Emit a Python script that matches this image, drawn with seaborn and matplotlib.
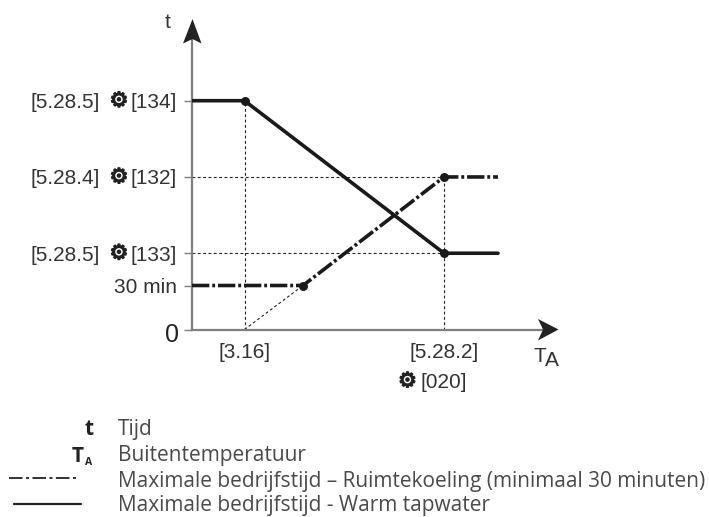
import matplotlib
matplotlib.use("Agg")
import matplotlib.pyplot as plt
from matplotlib.lines import Line2D
from matplotlib.patches import Polygon
from matplotlib.transforms import ScaledTranslation
import matplotlib.patheffects as pe
import seaborn as sns

W, H = 709, 517
GEAR = "\u2699"

# data (arbitrary temperature units along x, minutes along y)
cool_x = [0, 111, 252, 306]
cool_y = [30, 30, 104, 104]
heat_x = [0, 52.5, 252, 306]
heat_y = [156, 156, 52, 52]
knot_x = [52.5, 252, 111, 252]
knot_y = [156, 52, 30, 104]
guide_segments = [
    ([52.5, 52.5], [0, 156]),
    ([0, 252], [104, 104]),
    ([0, 252], [52, 52]),
    ([252, 252], [0, 104]),
    ([52.5, 111], [0, 30]),
]
y_ticks = [0, 30, 52, 104, 156]
y_labels = ["0", "30 min", "[133]", "[132]", "[134]"]
menu_ticks = [52, 104, 156]
menu_labels = ["[5.28.5]", "[5.28.4]", "[5.28.5]"]
x_ticks = [52.5, 252]
x_labels = ["[3.16]", "[5.28.2]"]
legend_keys = ["t", "T", None, None]
legend_texts = ["Tijd", "Buitentemperatuur",
                "Maximale bedrijfstijd \u2013 Ruimtekoeling (minimaal 30 minuten)",
                "Maximale bedrijfstijd - Warm tapwater"]

sns.set_style("white")
plt.rcParams["font.family"] = ["Liberation Sans", "DejaVu Sans"]
INK = "#222222"
AXC = "#7f7f7f"

fig = plt.figure(figsize=(W / 100, H / 100), dpi=100)
ax = fig.add_axes([192 / W, 1 - 329.5 / H, 358 / W, 299.5 / H])
ax.set_xlim(0, 358)
ax.set_ylim(0, 299.5 / (44 / 30))
ax.patch.set_alpha(0)

for gx, gy in guide_segments:
    sns.lineplot(x=gx, y=gy, ax=ax, color="#222222", linewidth=0.8, sort=False,
                 estimator=None, linestyle=(0, (2.6, 2.2)), zorder=1)
sns.lineplot(x=cool_x, y=cool_y, ax=ax, color="#1a1a1a", linewidth=2.6, sort=False,
             estimator=None, linestyle=(0, (4.8, 0.8, 0.8, 0.8)), zorder=3)
sns.lineplot(x=heat_x, y=heat_y, ax=ax, color="#1a1a1a", linewidth=2.6, sort=False,
             estimator=None, zorder=3)
sns.scatterplot(x=knot_x, y=knot_y, ax=ax, color="#1a1a1a", s=42, linewidth=0, zorder=4, clip_on=False)

for s in ("top", "right"):
    ax.spines[s].set_visible(False)
for s in ("left", "bottom"):
    ax.spines[s].set_color(AXC)
    ax.spines[s].set_linewidth(1.6)

ax.set_yticks(y_ticks, y_labels, fontsize=15, color="#333333")
ax.tick_params(axis="y", length=6, width=1.0, color=AXC, pad=5, left=True)
zero = ax.get_yticklabels()[0]
zero.set_fontsize(18)
zero.set_color(INK)
zero.set_transform(zero.get_transform() + ScaledTranslation(2 / 100, -3 / 100, fig.dpi_scale_trans))
ax.set_xticks(x_ticks, x_labels, fontsize=15, color="#333333")
ax.tick_params(axis="x", length=0, pad=10, bottom=True)

gear_fx = [pe.withStroke(linewidth=1.0, foreground="#222222")]
row_trans = ax.get_yaxis_transform()
for mt, ml in zip(menu_ticks, menu_labels):
    ax.text((119 - 192) / 358, mt, GEAR, transform=row_trans, family="DejaVu Sans", fontsize=15,
            color="#222222", ha="center", va="center", path_effects=gear_fx, clip_on=False)
    ax.text((99.5 - 192) / 358, mt, ml, transform=row_trans, fontsize=15,
            color="#333333", ha="right", va="center_baseline", clip_on=False)


def px(x, y):
    return x / W, 1 - y / H


# axis arrows
fig.add_artist(Polygon([px(192.5, 19), px(183, 43.5), px(192.5, 39), px(201.5, 43.5)],
                       closed=True, transform=fig.transFigure, color=INK, lw=0))
fig.add_artist(Polygon([px(558.5, 329.5), px(538, 319), px(543, 329.5), px(538, 340.5)],
                       closed=True, transform=fig.transFigure, color=INK, lw=0))

# axis names and the second label line
fig.text(*px(168, 23), "t", fontsize=15, color="#333333", ha="center", va="center")
fig.text(*px(539.5, 356), "T", fontsize=15, color="#333333", ha="center", va="center")
fig.text(*px(552, 361), "A", fontsize=15, color="#333333", ha="center", va="center")
fig.text(*px(443.7, 382), "[020]", fontsize=15, color="#333333", ha="center", va="center")
fig.text(*px(407.5, 381), GEAR, family="DejaVu Sans", fontsize=15, color="#222222", ha="center", va="center",
         path_effects=gear_fx)

# legend block
LF = "Open Sans"
LS = 15.03
baselines = [435, 461.5, 486.5, 511.5]
for yy, txt in zip(baselines, legend_texts):
    fig.text(*px(118, yy), txt, fontsize=LS, family=LF, color="#4a4a4a", ha="left", va="baseline")
fig.text(*px(93.5, baselines[0]), legend_keys[0], fontsize=LS, family=LF, weight="bold", color="#222222", ha="right", va="baseline")
fig.text(*px(83.5, baselines[1]), legend_keys[1], fontsize=LS, family=LF, weight="bold", color="#222222", ha="right", va="baseline")
fig.text(*px(85, baselines[1] + 3.5), "A", fontsize=7.5, family=LF, weight="bold", color="#222222", ha="left", va="baseline")
fig.add_artist(Line2D([9 / W, 76 / W], [1 - 478 / H] * 2, transform=fig.transFigure, color="#222222",
                      lw=1.3, linestyle=(0, (7.5, 1.9, 1.7, 1.9))))
fig.add_artist(Line2D([14 / W, 81 / W], [1 - 504 / H] * 2, transform=fig.transFigure, color="#222222", lw=1.6))

fig.savefig("out.png", dpi=100)
